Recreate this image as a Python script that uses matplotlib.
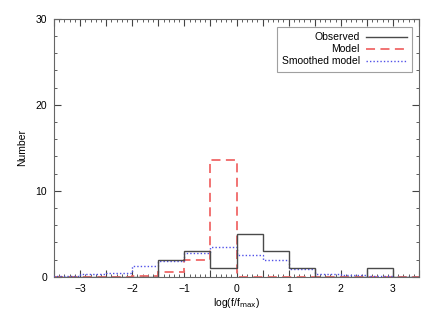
import numpy as np
import matplotlib
matplotlib.use("Agg")
import matplotlib.pyplot as plt
from matplotlib.ticker import MultipleLocator, FuncFormatter

edges = [-3.5, -3.0, -2.5, -2.0, -1.5, -1.0, -0.5, 0.0, 0.5, 1.0, 1.5, 2.0, 2.5, 3.0, 3.5]
observed = [0, 0, 0, 0, 2, 3, 1, 5, 3, 1, 0, 0, 1, 0]
model = [0, 0, 0, 0.1, 0.5, 1.9, 13.6, 0, 0, 0, 0, 0, 0, 0]
smoothed = [0.08, 0.27, 0.4, 1.24, 1.8, 2.75, 3.4, 2.5, 1.9, 0.85, 0.27, 0.15, 0.08, 0.0]

plt.rcParams['font.family'] = ['Liberation Sans', 'DejaVu Sans']
fig = plt.figure(figsize=(4.36, 3.12), dpi=100)
ax = fig.add_axes([54/436, 1-276.7/312, (419-54)/436, (276.7-18.7)/312])

ax.stairs(model, edges, color='#f06868', lw=1.3, ls=(0, (5, 3)), label='Model', zorder=2)
ax.stairs(smoothed, edges, color='#5050e8', lw=1.0, ls=(0, (1, 1.5)), label='Smoothed model', zorder=3)
ax.stairs(observed, edges, color='#4a4a4a', lw=1.0, label='Observed', zorder=4)

ax.set_xlim(-3.5, 3.5)
ax.set_ylim(0, 30)
ax.xaxis.set_major_locator(MultipleLocator(0.5))
ax.xaxis.set_minor_locator(MultipleLocator(0.1))
ax.xaxis.set_major_formatter(FuncFormatter(lambda v, p: ('%d' % round(v)).replace('-', '\u2212') if abs(v - round(v)) < 1e-6 else ''))
ax.yaxis.set_major_locator(MultipleLocator(10))
ax.yaxis.set_minor_locator(MultipleLocator(2))
ax.tick_params(which='both', direction='in', top=True, right=True, labelsize=7.5, colors='#444444', labelcolor='black')
ax.tick_params(which='major', length=5, width=0.8, pad=5)
ax.tick_params(which='minor', length=2.5, width=0.6)
for s in ax.spines.values():
    s.set_color('#666666')
    s.set_linewidth(0.8)

ax.set_xlabel(r'log(f/f$_{\rm max}$)', fontsize=7.5, labelpad=2)
ax.set_ylabel('Number', fontsize=7.5, labelpad=6)

h, l = ax.get_legend_handles_labels()
order = [2, 0, 1]
leg = ax.legend([h[i] for i in order], [l[i] for i in order], loc='upper right',
                bbox_to_anchor=(412/436, 1-27/312), bbox_transform=fig.transFigure,
                fontsize=7.5, markerfirst=False, frameon=True, fancybox=False,
                edgecolor='#888888', borderpad=0.5, labelspacing=0.2, handlelength=3.9,
                handletextpad=0.6, borderaxespad=0)
leg.get_frame().set_linewidth(0.8)
for t in leg.get_texts():
    t.set_ha('right')
leg._legend_box.align = 'right'

fig.savefig('out.png', dpi=100)
